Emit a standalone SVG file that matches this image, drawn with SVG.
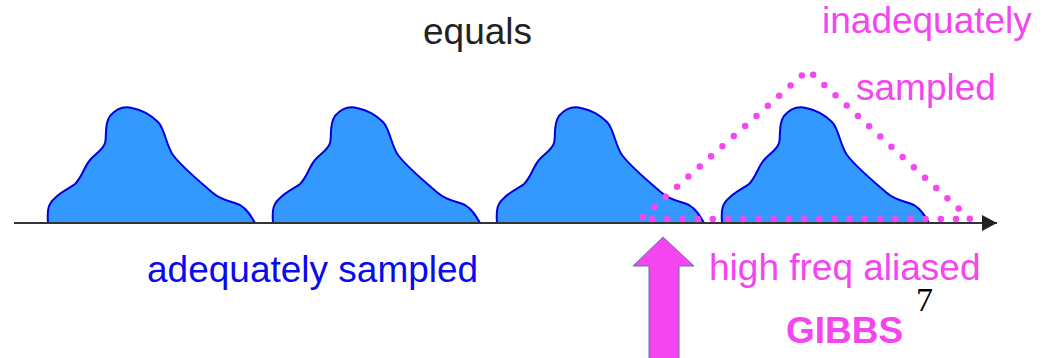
<svg xmlns="http://www.w3.org/2000/svg" width="1042" height="358" viewBox="0 0 1042 358">
<style>
.blob{fill:#3399FF;stroke:#0000DD;stroke-width:2;stroke-linejoin:round}
.dots{fill:none;stroke:#F547F0;stroke-width:6.5;stroke-linecap:round;stroke-dasharray:0 15.2}
.t{font-family:"Liberation Sans",Arial,sans-serif;font-size:37px}
.pink{fill:#F545F0}
.blue{fill:#0A0AF0}
</style>
<defs>
<path id="blobshape" d="M48,223 C47,210 48,204 55,198 C62,191 70,188 75,184 C82,177 84,167 90,160 C95,154 103,150 105,143 C107,136 104,124 110,116 C116,109 124,106 132,108 C142,110 152,116 158,122 C165,129 166,145 173,155 C182,167 200,182 213,193 C222,201 232,201 240,205 C247,209 251,216 255,223 Z"/>
<marker id="ah" markerWidth="16" markerHeight="16" refX="15" refY="8" orient="auto" markerUnits="userSpaceOnUse">
<path d="M0,0 L15,8 L0,16 Z" fill="#222"/>
</marker>
</defs>
<g id="blob1"><use href="#blobshape" class="blob"/></g>
<g id="blob2"><use href="#blobshape" class="blob" transform="translate(225,0)"/></g>
<g id="blob3"><use href="#blobshape" class="blob" transform="translate(449,0)"/></g>
<g id="blob4"><use href="#blobshape" class="blob" transform="translate(674,0)"/></g>
<g id="connectors">
<line x1="14" y1="223" x2="997" y2="223" stroke="#333" stroke-width="2" marker-end="url(#ah)"/>
</g>
<g id="triangle">
<path class="dots" d="M643,217 L808,70 L970,219"/>
<path class="dots" d="M652,219 L970,219"/>
</g>
<g id="arrow">
<polygon points="663,237 694,266 679,266 679,360 649,360 649,266 633,266" fill="#F545F0" stroke="#5577AA" stroke-width="1"/>
</g>
<text class="t" x="423" y="44" fill="#222">equals</text>
<text class="t pink" x="822" y="33">inadequately</text>
<text class="t pink" x="856" y="100">sampled</text>
<text class="t blue" x="147" y="282">adequately sampled</text>
<text class="t pink" x="709" y="280">high freq aliased</text>
<text x="916" y="311" font-family="'Liberation Serif','Times New Roman',serif" font-size="34" fill="#000">7</text>
<text class="t pink" x="786" y="343" font-weight="bold" font-size="35">GIBBS</text>
</svg>
